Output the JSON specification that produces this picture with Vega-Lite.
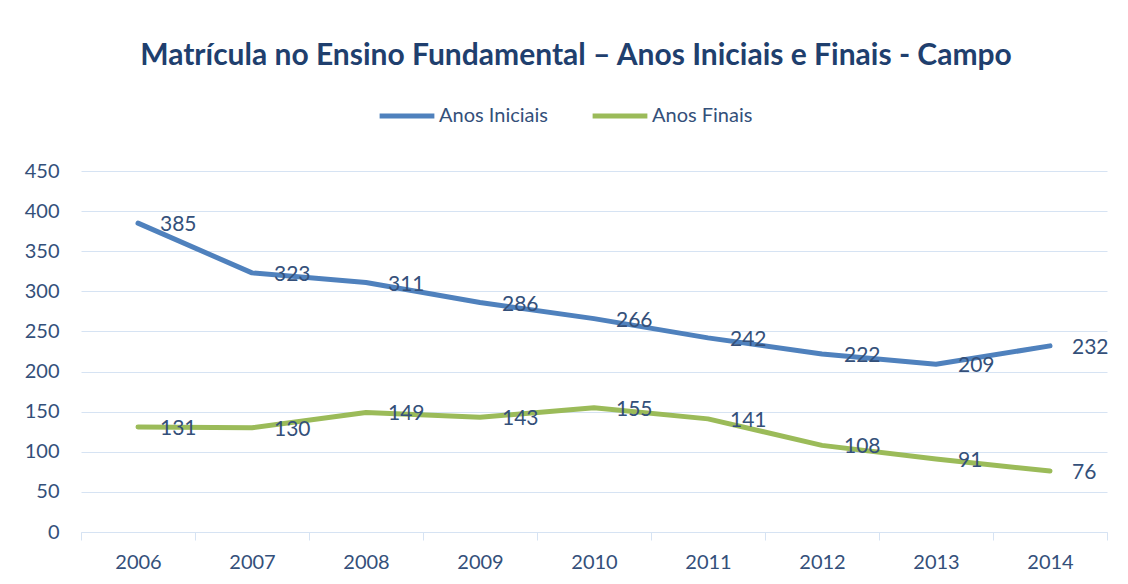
{
  "$schema": "https://vega.github.io/schema/vega-lite/v6.json",
  "width": 1026,
  "height": 361,
  "autosize": {"type": "none"},
  "padding": {"left": 81, "top": 171, "right": 21, "bottom": 52},
  "background": "white",
  "title": {
    "text": "Matrícula no Ensino Fundamental – Anos Iniciais e Finais - Campo",
    "font": "Lato",
    "fontSize": 30,
    "fontWeight": "bold",
    "color": "#1f3f6e",
    "anchor": "middle",
    "frame": "group",
    "dx": -18,
    "offset": 15
  },
  "config": {
    "view": {"stroke": null},
    "font": "Lato"
  },
  "data": {
    "values": [
      {"ano": "2006", "serie": "Anos Iniciais", "valor": 385},
      {"ano": "2007", "serie": "Anos Iniciais", "valor": 323},
      {"ano": "2008", "serie": "Anos Iniciais", "valor": 311},
      {"ano": "2009", "serie": "Anos Iniciais", "valor": 286},
      {"ano": "2010", "serie": "Anos Iniciais", "valor": 266},
      {"ano": "2011", "serie": "Anos Iniciais", "valor": 242},
      {"ano": "2012", "serie": "Anos Iniciais", "valor": 222},
      {"ano": "2013", "serie": "Anos Iniciais", "valor": 209},
      {"ano": "2014", "serie": "Anos Iniciais", "valor": 232},
      {"ano": "2006", "serie": "Anos Finais", "valor": 131},
      {"ano": "2007", "serie": "Anos Finais", "valor": 130},
      {"ano": "2008", "serie": "Anos Finais", "valor": 149},
      {"ano": "2009", "serie": "Anos Finais", "valor": 143},
      {"ano": "2010", "serie": "Anos Finais", "valor": 155},
      {"ano": "2011", "serie": "Anos Finais", "valor": 141},
      {"ano": "2012", "serie": "Anos Finais", "valor": 108},
      {"ano": "2013", "serie": "Anos Finais", "valor": 91},
      {"ano": "2014", "serie": "Anos Finais", "valor": 76}
    ]
  },
  "encoding": {
    "x": {
      "field": "ano",
      "type": "ordinal",
      "scale": {"type": "band", "paddingInner": 0, "paddingOuter": 0},
      "axis": {
        "title": null,
        "labelAngle": 0,
        "labelFont": "Lato",
        "labelFontSize": 20,
        "labelColor": "#34507a",
        "labelPadding": 12,
        "tickBand": "extent",
        "tickSize": 8,
        "tickColor": "#d6e3f3",
        "domainColor": "#d6e3f3",
        "domainWidth": 1,
        "grid": false
      }
    },
    "y": {
      "field": "valor",
      "type": "quantitative",
      "scale": {"domain": [0, 450]},
      "axis": {
        "title": null,
        "values": [0, 50, 100, 150, 200, 250, 300, 350, 400, 450],
        "labelFont": "Lato",
        "labelFontSize": 20,
        "labelColor": "#34507a",
        "labelPadding": 22,
        "ticks": false,
        "domain": false,
        "gridColor": "#d6e3f3",
        "gridWidth": 1
      }
    },
    "color": {
      "field": "serie",
      "type": "nominal",
      "scale": {"domain": ["Anos Iniciais", "Anos Finais"], "range": ["#4f81bd", "#9bbb59"]},
      "legend": {
        "title": null,
        "orient": "none",
        "direction": "horizontal",
        "legendX": 296,
        "legendY": -85,
        "symbolType": "stroke",
        "symbolSize": 3000,
        "symbolStrokeWidth": 5,
        "labelFont": "Lato",
        "labelFontSize": 20,
        "labelColor": "#34507a",
        "labelOffset": 2,
        "columnPadding": 34
      }
    }
  },
  "layer": [
    {
      "mark": {"type": "line", "strokeWidth": 5, "strokeCap": "round", "strokeJoin": "round"}
    },
    {
      "mark": {"type": "text", "align": "left", "baseline": "middle", "dx": 22, "dy": 2, "font": "Lato", "fontSize": 21, "color": "#34507a"},
      "encoding": {
        "text": {"field": "valor", "type": "quantitative"},
        "color": {"value": "#34507a"}
      }
    }
  ]
}
